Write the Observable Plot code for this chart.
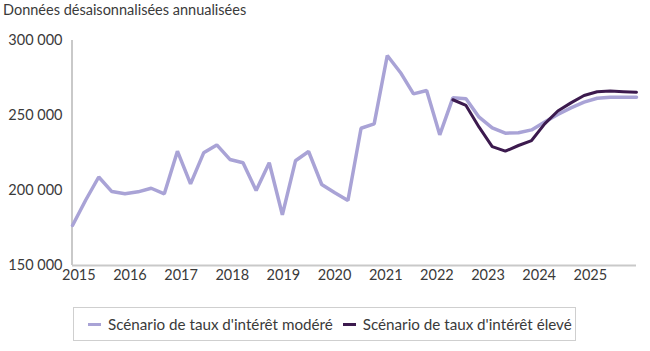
<!DOCTYPE html>
<html>
<head>
<meta charset="utf-8">
<script src="https://cdn.jsdelivr.net/npm/d3@7"></script>
<script src="https://cdn.jsdelivr.net/npm/@observablehq/plot@0.6"></script>
<style>
  html, body { margin: 0; padding: 0; background: #fff; }
  #wrap { position: relative; width: 650px; height: 351px; font-family: Lato, "Open Sans", sans-serif; color: #3a3a3a; }
  #title { position: absolute; left: 3px; top: 1px; font-size: 14.5px; white-space: nowrap; }
  #chart { position: absolute; left: 0; top: 22px; }
  #legend { position: absolute; left: 73px; top: 307px; width: 503px; height: 34px; border: 1px solid #cfcfcf; box-sizing: border-box;
            display: flex; align-items: center; font-size: 15.2px; white-space: nowrap; }
  .sw { display: inline-block; width: 13px; height: 3px; margin-right: 7px; vertical-align: middle; }
  .item { display: inline-flex; align-items: center; }
</style>
</head>
<body>
<div id="wrap">
  <div id="title">Données désaisonnalisées annualisées</div>
  <div id="chart"></div>
  <div id="legend"></div>
</div>
<script>
// Quarters 2015T1 .. 2025T4 (44 quarters)
const quarters = [
  "2015T1","2015T2","2015T3","2015T4","2016T1","2016T2","2016T3","2016T4",
  "2017T1","2017T2","2017T3","2017T4","2018T1","2018T2","2018T3","2018T4",
  "2019T1","2019T2","2019T3","2019T4","2020T1","2020T2","2020T3","2020T4",
  "2021T1","2021T2","2021T3","2021T4","2022T1","2022T2","2022T3","2022T4",
  "2023T1","2023T2","2023T3","2023T4","2024T1","2024T2","2024T3","2024T4",
  "2025T1","2025T2","2025T3","2025T4"
];
// Scénario de taux d'intérêt modéré
const modere = [
  176700, 193500, 209000, 199300, 197800, 199100, 201500, 197800,
  226200, 204400, 225100, 230400, 220700, 218500, 200000, 218500,
  183800, 219800, 226000, 204000, 198500, 193300, 241500, 244400,
  290000, 278700, 264400, 266700, 237100, 261800, 261100, 248900,
  241800, 238200, 238500, 240400, 245600, 250700, 255100, 258900,
  261500, 262200, 262200, 262200
];
// Scénario de taux d'intérêt élevé (starts 2022T2)
const eleve = [
  null, null, null, null, null, null, null, null,
  null, null, null, null, null, null, null, null,
  null, null, null, null, null, null, null, null,
  null, null, null, null, null, 260500, 256700, 242200,
  229300, 226200, 230000, 233300, 244400, 253000, 258400, 263300,
  265800, 266300, 265900, 265500
];
const yTicks = [150000, 200000, 250000, 300000];
const yearLabels = ["2015","2016","2017","2018","2019","2020","2021","2022","2023","2024","2025"];
const seriesNames = ["Scénario de taux d'intérêt modéré", "Scénario de taux d'intérêt élevé"];
const seriesColors = ["#a9a3d6", "#3c1a4e"];

const modData = quarters.map((q, i) => ({i, q, v: modere[i]}));
const eleData = quarters.map((q, i) => ({i, q, v: eleve[i]})).filter(d => d.v != null);
// year label positions in quarter-index units
const yearPos = yearLabels.map((y, k) => 0.48 + 3.9 * k);

const fmt = v => d3.format(",")(v).replace(/,/g, " ");

const chart = Plot.plot({
  width: 650,
  height: 268,
  marginLeft: 72,
  marginRight: 14,
  marginTop: 18,
  marginBottom: 25,
  style: { fontFamily: "Lato, 'Open Sans', sans-serif", color: "#3a3a3a", background: "transparent" },
  x: { domain: [0, quarters.length - 1], axis: null },
  y: { domain: [150000, 300000], axis: null },
  marks: [
    Plot.ruleX([0], { y1: 150000, y2: 300000, stroke: "#c9c9c9", strokeWidth: 2, dx: -0.5 }),
    Plot.ruleY([150000], { x1: 0, x2: quarters.length - 1, stroke: "#c9c9c9", strokeWidth: 2 }),
    Plot.text(yTicks, { x: 0, y: d => d, text: d => fmt(d), textAnchor: "end", dx: -10, fontSize: 14.5, fill: "#3a3a3a" }),
    Plot.text(yearLabels, { x: (d, k) => yearPos[k], y: 150000, text: d => d, dy: 10, fontSize: 14.5, fill: "#3a3a3a" }),
    Plot.line(modData, { x: "i", y: "v", stroke: seriesColors[0], strokeWidth: 3.5, strokeLinejoin: "miter" }),
    Plot.line(eleData, { x: "i", y: "v", stroke: seriesColors[1], strokeWidth: 3, strokeLinejoin: "miter" })
  ]
});
document.getElementById("chart").appendChild(chart);

const legend = document.getElementById("legend");
seriesNames.forEach((name, k) => {
  const it = document.createElement("span");
  it.className = "item";
  it.style.marginLeft = k === 0 ? "14px" : "10px";
  const sw = document.createElement("span");
  sw.className = "sw";
  sw.style.background = seriesColors[k];
  it.appendChild(sw);
  it.appendChild(document.createTextNode(name));
  legend.appendChild(it);
});
</script>
</body>
</html>
